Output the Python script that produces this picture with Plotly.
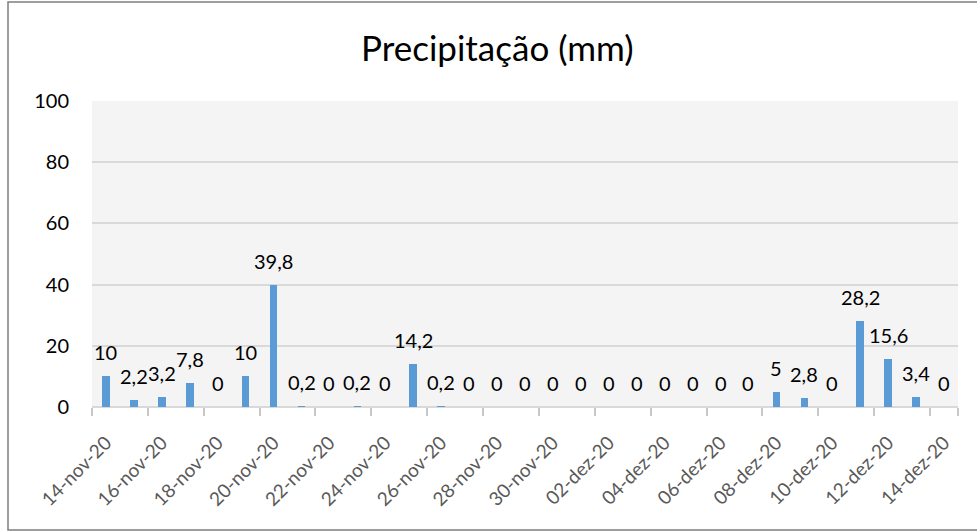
import plotly.graph_objects as go

dates = ["14-nov-20", "15-nov-20", "16-nov-20", "17-nov-20", "18-nov-20", "19-nov-20",
         "20-nov-20", "21-nov-20", "22-nov-20", "23-nov-20", "24-nov-20", "25-nov-20",
         "26-nov-20", "27-nov-20", "28-nov-20", "29-nov-20", "30-nov-20", "01-dez-20",
         "02-dez-20", "03-dez-20", "04-dez-20", "05-dez-20", "06-dez-20", "07-dez-20",
         "08-dez-20", "09-dez-20", "10-dez-20", "11-dez-20", "12-dez-20", "13-dez-20",
         "14-dez-20"]
precip = [10, 2.2, 3.2, 7.8, 0, 10, 39.8, 0.2, 0, 0.2, 0, 14.2, 0.2, 0, 0, 0, 0, 0,
          0, 0, 0, 0, 0, 0, 5, 2.8, 0, 28.2, 15.6, 3.4, 0]
y_ticks = [0, 20, 40, 60, 80, 100]

idx = list(range(len(dates)))
labels = [f"{v:g}".replace(".", ",") for v in precip]

FONT = "Lato, Calibri, sans-serif"

fig = go.Figure()
fig.add_trace(go.Bar(x=idx, y=precip, width=0.27, marker=dict(color="#5b9bd5", line=dict(width=0)),
                     hoverinfo="x+y"))

for i, v, t in zip(idx, precip, labels):
    fig.add_annotation(x=i, y=v, text=t, showarrow=False, yanchor="middle", yshift=24,
                       font=dict(family=FONT, size=20, color="#000000"))

fig.update_layout(
    width=977, height=532,
    margin=dict(l=92, r=19, t=101, b=125),
    paper_bgcolor="white",
    plot_bgcolor="#f4f4f4",
    showlegend=False,
    bargap=0,
    title=dict(text="Precipitação (mm)", x=0.509, xref="container", xanchor="center",
               y=1 - 49 / 532, yref="container", yanchor="middle",
               font=dict(family=FONT, size=35, color="#000000")),
    xaxis=dict(
        range=[-0.5, len(dates) - 0.5],
        tickmode="array", tickvals=idx[::2], ticktext=dates[::2],
        tickangle=-45, ticks="", showgrid=False, zeroline=False,
        showline=False,
        tickfont=dict(family=FONT, size=19, color="#595959"),
        ticklabelstandoff=20,
        minor=dict(tickmode="array", tickvals=[i - 0.5 for i in idx[::2]] + [len(dates) - 0.5],
                   ticks="outside", ticklen=8, tickcolor="#c8c8c8", tickwidth=1.5, showgrid=False),
    ),
    yaxis=dict(
        range=[0, 100], tickmode="array", tickvals=y_ticks,
        showgrid=True, gridcolor="#d9d9d9", gridwidth=2,
        zeroline=True, zerolinecolor="#d9d9d9", zerolinewidth=2,
        showline=False, ticks="",
        tickfont=dict(family=FONT, size=20, color="#000000"),
        ticklabelstandoff=22,
    ),
)

# outer chart border
fig.add_shape(type="rect", xref="paper", yref="paper",
              x0=(8 - 92) / 866, x1=(1010 - 92) / 866,
              y0=(407 - 530) / 306, y1=(407 - 2) / 306,
              line=dict(color="#7f7f7f", width=1.5), fillcolor="rgba(0,0,0,0)", layer="below")

fig.write_html("out.html", config={"displayModeBar": False},
               post_script="document.body.style.margin='0';")
